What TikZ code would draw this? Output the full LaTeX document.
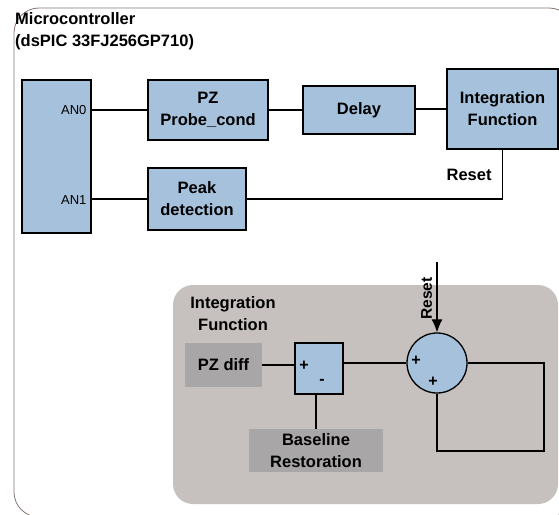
\documentclass[tikz,border=0pt]{standalone}
\usepackage{fontspec}
\setmainfont{Liberation Sans}
\usetikzlibrary{arrows.meta, positioning}

\definecolor{blkblue}{RGB}{165,193,219}
\definecolor{panelgray}{RGB}{198,192,191}
\definecolor{srcgray}{RGB}{168,166,166}
\definecolor{framebrown}{RGB}{135,118,114}

\begin{document}
\begin{tikzpicture}[
    x=1pt, y=-1pt,
    font=\fontsize{16.5}{22}\selectfont\bfseries,
    blk/.style={
        draw, line width=1.3pt, fill=blkblue,
        align=center, inner sep=3pt
    },
    src/.style={fill=srcgray, align=center, inner sep=3pt},
    pin/.style={font=\fontsize{13}{15}\selectfont, anchor=east},
    sgn/.style={font=\fontsize{16}{18}\selectfont\bfseries, inner sep=0pt},
    wire/.style={line width=1.2pt},
    arrow/.style={-{Latex[length=13pt, width=11pt]}, line width=1.2pt}
]
\clip (0,0) rectangle (559,514);

% -- outer frame: microcontroller --
\draw[framebrown, line width=0.8pt, rounded corners=25pt] (14,8) rectangle (574,517);
\node[anchor=north west, align=left, inner sep=0pt] (mctitle) at (15,12)
    {Microcontroller\\(dsPIC 33FJ256GP710)};

% -- top: pipeline blocks --
\node[blk, minimum width=69pt, minimum height=153pt] (mcu) at (56.5,156.5) {};
\node[pin] (an0) at (90,110) {AN0};
\node[pin] (an1) at (90,200) {AN1};

\node[blk, minimum width=120pt, minimum height=60pt] (probe) at (208,110)
    {PZ\\Probe\_cond};
\node[blk, minimum width=112pt, minimum height=48pt] (delay) at (359,110)
    {Delay};
\node[blk, minimum width=111pt, minimum height=80pt] (integ) at (502.5,109)
    {Integration\\Function};
\node[blk, minimum width=98pt, minimum height=62pt] (peak) at (197,199)
    {Peak\\detection};

\draw[wire] (mcu.east |- probe.west) -- (probe.west);
\draw[wire] (probe.east) -- (delay.west |- probe.east);
\draw[wire] (delay.east |- integ.west) -- (integ.west);
\draw[wire] (mcu.east |- peak.west) -- (peak.west);
\draw[wire] (peak.east) -| node[pos=0.74, left=7pt]{Reset} (integ.south);

% -- bottom: integration function detail --
\node[fill=panelgray, rounded corners=20pt, minimum width=385pt, minimum height=219pt,
    inner sep=0pt] (panel) at (365.5,394.5) {};
\node[align=center, inner sep=0pt] (paneltitle) at (233,314)
    {Integration\\Function};

\node[src, minimum width=77pt, minimum height=44pt] (pzdiff) at (223.5,365) {PZ diff};
\node[blk, minimum width=48pt, minimum height=51pt] (sub) at (319,368.5) {};
\node[sgn] (subplus) at (304,366) {+};
\node[sgn] (subminus) at (322,382) {-};
\node[src, minimum width=134pt, minimum height=43pt] (base) at (316,450.5)
    {Baseline\\Restoration};

\node[blk, circle, minimum size=60pt, inner sep=0pt] (acc) at (437,363) {};
\node[sgn] (accplus) at (416,361) {+};
\node[sgn] (accplusb) at (433,382) {+};

\coordinate (rsttop) at (437,262);
\coordinate (loopa) at (544,363);
\coordinate (loopb) at (544,451);

\draw[wire] (pzdiff.east) -- (sub.west |- pzdiff.east);
\draw[wire] (base.north |- sub.south) -- (base.north);
\draw[wire] (sub.east |- acc.west) -- (acc.west);
\draw[arrow] (rsttop) -- node[pos=0.52, left=1pt, rotate=90, anchor=south,
    font=\fontsize{15.5}{17}\selectfont\bfseries]{Reset} (acc.north);
\draw[wire] (acc.east) -- (loopa) -- (loopb) -| (acc.south);

\end{tikzpicture}
\end{document}
